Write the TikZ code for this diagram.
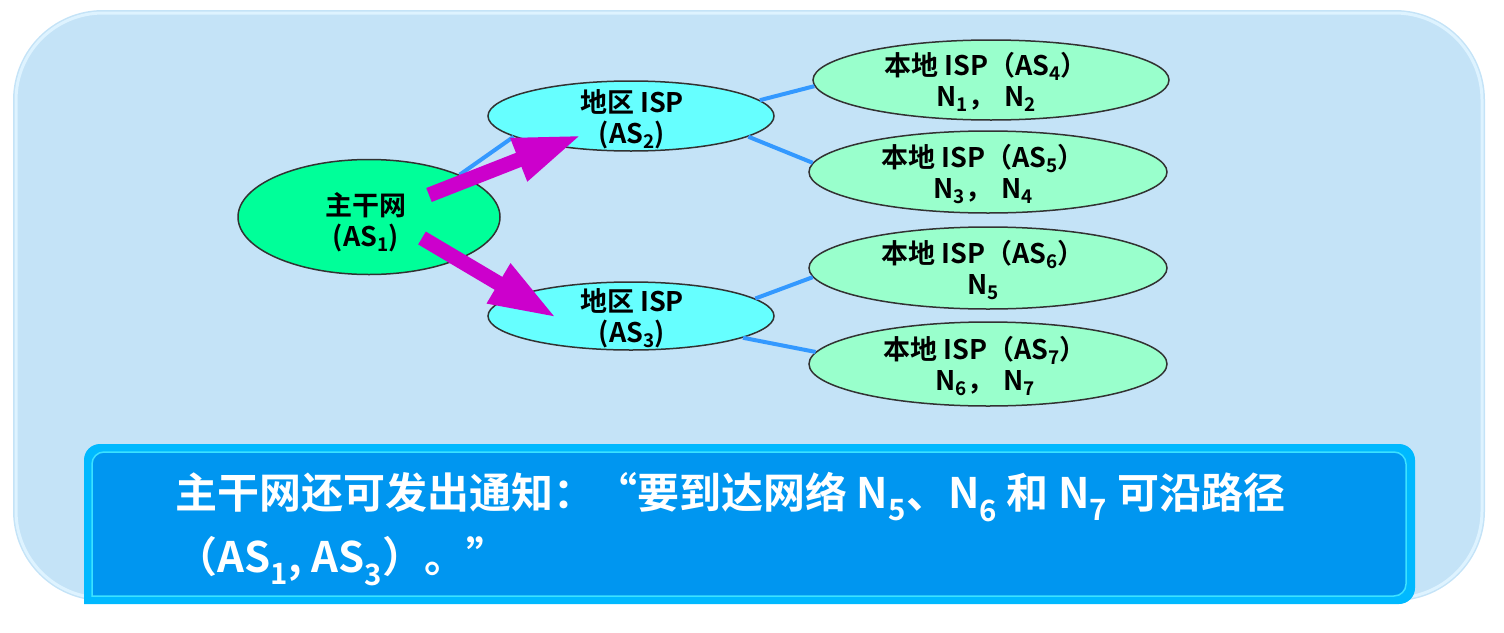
\documentclass[tikz,border=0pt]{standalone}
\usepackage{fontspec}
\setmainfont{Noto Sans CJK SC}[BoldFont={Noto Sans CJK SC Bold}]
\usetikzlibrary{shapes.geometric,arrows.meta}
\definecolor{bgblue}{RGB}{196,227,247}
\definecolor{bgrim}{RGB}{222,243,255}
\definecolor{boxedge}{RGB}{0,185,255}
\definecolor{boxfill}{RGB}{0,150,240}
\definecolor{boxline}{RGB}{60,225,255}
\definecolor{backbone}{RGB}{0,255,153}
\definecolor{regional}{RGB}{102,255,255}
\definecolor{local}{RGB}{153,255,204}
\definecolor{linkblue}{RGB}{51,153,255}
\definecolor{arrowmag}{RGB}{204,0,204}
\definecolor{rimgray}{RGB}{50,50,50}
\newcommand{\sbs}[1]{\textsubscript{#1}}
\newcommand{\cgap}{\hspace{9pt}}
\tikzset{
  oval/.style={ellipse, draw=rimgray, line width=1.5pt, inner sep=0pt},
  txt/.style={font=\bfseries\fontsize{27}{31}\selectfont, align=center, inner sep=0pt, text=black},
  notetxt/.style={font=\bfseries\fontsize{42}{64}\selectfont, text=white, inner sep=0pt, anchor=base west},
  link/.style={draw=linkblue, line width=4pt},
  bigarrow/.style={draw=arrowmag, line width=15pt, -{Triangle[length=68pt,width=42pt]}, arrowmag}
}
\begin{document}
\begin{tikzpicture}[x=1pt,y=-1pt]
\useasboundingbox (0,0) rectangle (1504,632);
% background panel
\fill[bgblue, rounded corners=90pt] (13,10) rectangle (1485,601);
\draw[bgrim, line width=3pt, rounded corners=87pt] (16,13) rectangle (1482,598);
% ellipses
\node[oval, fill=backbone, minimum width=262pt, minimum height=115pt] (as1) at (369,217) {};
\node[oval, fill=regional, minimum width=286pt, minimum height=70pt] (as2) at (631,116) {};
\node[oval, fill=regional, minimum width=286pt, minimum height=68pt] (as3) at (631,316) {};
\node[oval, fill=local, minimum width=356pt, minimum height=80pt] (as4) at (991,80) {};
\node[oval, fill=local, minimum width=358pt, minimum height=82pt] (as5) at (988,172) {};
\node[oval, fill=local, minimum width=358pt, minimum height=82pt] (as6) at (988,268) {};
\node[oval, fill=local, minimum width=358pt, minimum height=84pt] (as7) at (988,364) {};
% texts
\node[txt] (t1) at (366,222) {主干网\\(AS\sbs{1})};
\node[txt] (t2) at (632,119) {地区 ISP\\(AS\sbs{2})};
\node[txt] (t3) at (632,318) {地区 ISP\\(AS\sbs{3})};
\node[txt] (t4) at (986,82) {本地 ISP（AS\sbs{4}）\\N\sbs{1}，\cgap N\sbs{2}};
\node[txt] (t5) at (983,174) {本地 ISP（AS\sbs{5}）\\N\sbs{3}，\cgap N\sbs{4}};
\node[txt] (t6) at (983,270) {本地 ISP（AS\sbs{6}）\\N\sbs{5}};
\node[txt] (t7) at (985,366) {本地 ISP（AS\sbs{7}）\\N\sbs{6}，\cgap N\sbs{7}};
% links
\draw[link] (as1.25) -- (as2.190);
\draw[link] (as2.7) -- (as4.182);
\draw[link] (as2.350) -- (as5.177);
\draw[link] (as3.8) -- (as6.183);
\draw[link] (as3.349) -- (as7.176);
% arrows
\coordinate (a1s) at (429,195);
\coordinate (a1e) at (582,135);
\coordinate (a2s) at (422,238);
\coordinate (a2e) at (557,318);
\draw[bigarrow] (a1s) -- (a1e);
\draw[bigarrow] (a2s) -- (a2e);
% notice box
\fill[boxedge] (84,524) [rounded corners=16pt] -- (84,444) -- (1415,444) -- (1415,604) -- (200,604) [sharp corners] -- (84,604) -- cycle;
\filldraw[fill=boxfill, draw=boxline, line width=1.5pt] (92,524) [rounded corners=12pt] -- (92,452) -- (1406,452) -- (1406,596) -- (200,596) [sharp corners] -- (92,596) -- cycle;
\node[notetxt] (note1) at (175,508) {主干网还可发出通知：“要到达网络 N\sbs{5}、N\sbs{6} 和 N\sbs{7} 可沿路径};
\node[notetxt] (note2) at (175,572) {（AS\sbs{1}, AS\sbs{3}）。”};
\end{tikzpicture}
\end{document}
